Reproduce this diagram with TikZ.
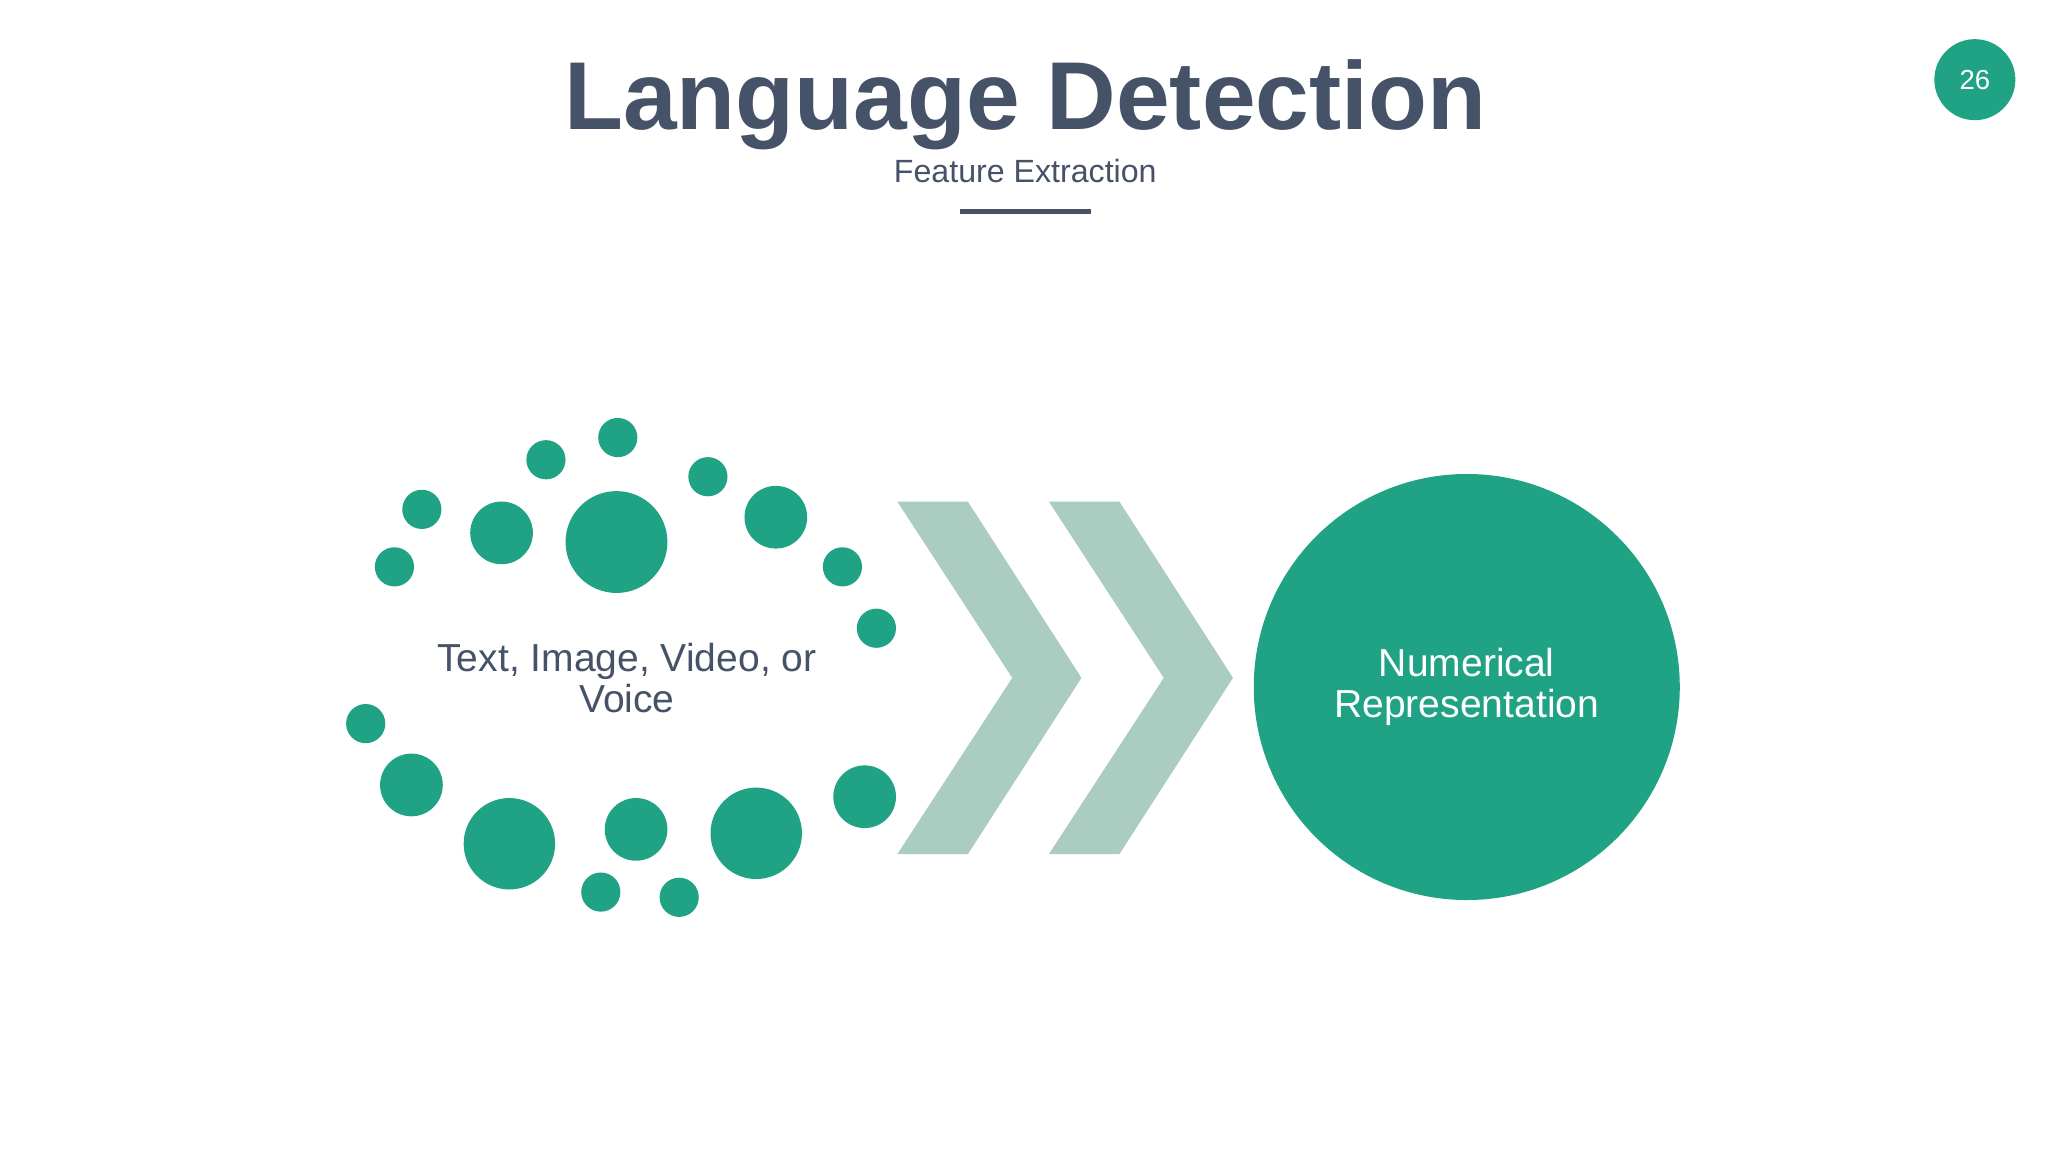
\documentclass[tikz,border=0pt]{standalone}
\usepackage{fontspec}
\setmainfont{Liberation Sans}
\definecolor{slate}{HTML}{465268}
\definecolor{teal}{HTML}{20A284}
\definecolor{sage}{HTML}{ABCCC1}
\tikzset{
  dotnode/.style={fill=teal,shape=circle,inner sep=0pt},
  chevron/.style={fill=sage,draw=none},
  textnode/.style={align=center,text=slate,font=\fontsize{8.5}{9}\selectfont}
}
\begin{document}
\begin{tikzpicture}[x=0.01cm,y=-0.01cm]
      \useasboundingbox[fill=white] (0,0) rectangle (1568,882);
      %
      \node[text=slate,font=\fontsize{21}{24}\selectfont\bfseries] (title) at (785,80) {Language Detection};
      \node[text=slate,font=\fontsize{7}{8}\selectfont] (sub) at (785,131) {Feature Extraction};
      \draw[slate,line width=1.2pt] (735,162) -- (835,162);
      \node[dotnode,minimum size=0.62cm,text=white,font=\fontsize{6}{7}\selectfont] (page) at (1512,61) {26};
      %
      \foreach \x/\y/\r [count=\i] in {473/335/15,418/352/15,323/390/15,302/434/15,384/408/24,
          472/415/39,542/365/15,594/396/24,645/434/15,671/481/15,280/554/15,315/601/24,
          390/646/35,487/635/24,460/683/15,520/687/15,579/638/35,662/610/24}
        \node[dotnode,minimum size=2*\r*0.01cm] (d\i) at (\x,\y) {};
      %
      \node[textnode] (input) at (480,519) {Text, Image, Video, or\\Voice};
      %
      \foreach \dx [count=\i] in {0,116}
        \fill[chevron] (687+\dx,384) -- (741+\dx,384) -- (828+\dx,519) -- (741+\dx,654)
          -- (687+\dx,654) -- (775+\dx,519) -- cycle;
      %
      \node[dotnode,minimum size=3.26cm,textnode,text=white] (output) at (1123,526) {Numerical\\Representation};
      %
\end{tikzpicture}
\end{document}
